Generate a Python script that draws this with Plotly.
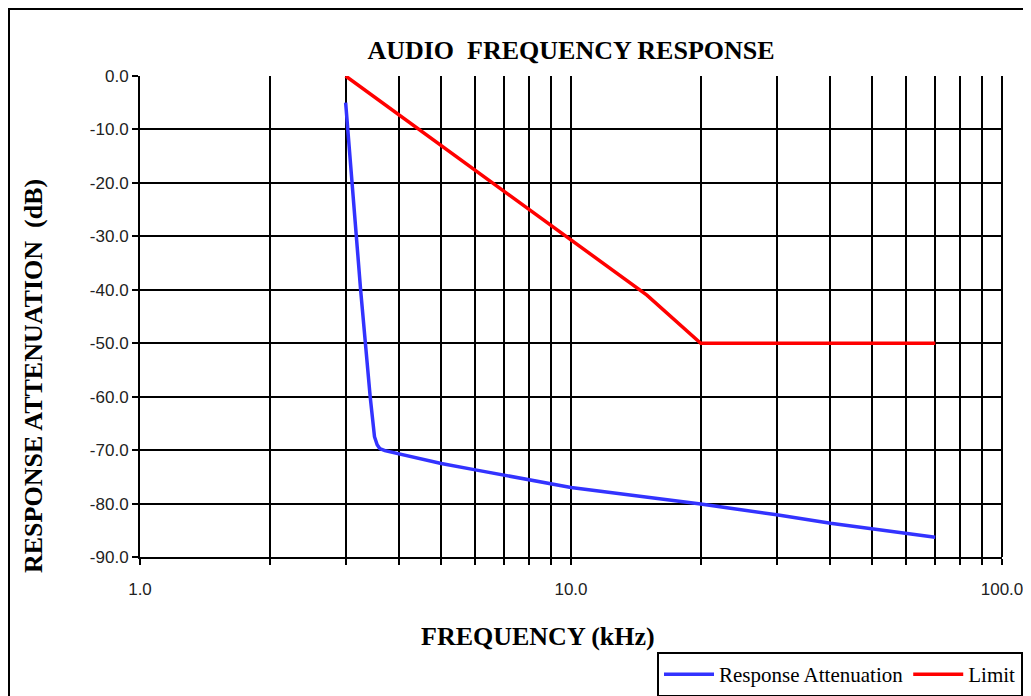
import plotly.graph_objects as go

# response attenuation (blue)
resp_freq = [3.0, 3.1, 3.25, 3.42, 3.5, 3.55, 3.6, 3.7, 3.85, 4.0, 5.0, 6.0, 7.0, 8.0, 9.0, 10.0,
             20.0, 30.0, 40.0, 50.0, 60.0, 70.0]
resp_db = [-5.0, -20.0, -40.0, -60.0, -67.5, -69.0, -69.7, -70.1, -70.4, -70.7, -72.5, -73.7, -74.7,
           -75.6, -76.4, -77.0, -80.1, -82.1, -83.7, -84.8, -85.7, -86.3]

# limit (red)
limit_freq = [3.0, 15.0, 20.0, 70.0]
limit_db = [0.0, -41.0, -50.0, -50.0]

x_major = [1, 10, 100]
x_major_text = ["1.0", "10.0", "100.0"]
x_minor = [2, 3, 4, 5, 6, 7, 8, 9, 20, 30, 40, 50, 60, 70, 80, 90]
y_ticks = [0, -10, -20, -30, -40, -50, -60, -70, -80, -90]
y_ticktext = [f"{v:.1f}" for v in y_ticks]

SERIF = "Liberation Serif, Times New Roman, serif"
SANS = "Liberation Sans, Arial, sans-serif"

# page offset (body margin) and plot box in page pixels
OFF = 8
PX0, PX1, PY0, PY1 = 140, 1002, 76, 557
W, H = 1031, 696


def px(x):
    return (x - PX0) / (PX1 - PX0)


def py(y):
    return (PY1 - y) / (PY1 - PY0)


fig = go.Figure()

fig.add_trace(go.Scatter(
    x=resp_freq, y=resp_db,
    name="Response Attenuation",
    mode="lines",
    line=dict(color="#3333ff", width=3.5),
))

fig.add_trace(go.Scatter(
    x=limit_freq, y=limit_db,
    name="Limit",
    mode="lines",
    line=dict(color="#ff0000", width=3.5),
))

fig.update_layout(
    width=W,
    height=H,
    paper_bgcolor="white",
    plot_bgcolor="white",
    margin=dict(l=PX0 - OFF, r=W + OFF - PX1, t=PY0 - OFF, b=H + OFF - PY1),
    title=dict(
        text="<b>AUDIO  FREQUENCY RESPONSE</b>",
        x=0.5, xref="paper", xanchor="center",
        y=1 - (50 - OFF) / H, yref="container", yanchor="middle",
        font=dict(family=SERIF, size=26, color="black"),
    ),
    showlegend=True,
    legend=dict(
        orientation="h",
        x=px(657), xanchor="left",
        y=1 - (652 - OFF) / H, yref="container", yanchor="top",
        font=dict(family=SERIF, size=21, color="black"),
        bordercolor="black", borderwidth=2,
        bgcolor="white",
        itemwidth=50,
    ),
    xaxis=dict(
        type="log",
        range=[0, 2],
        tickmode="array",
        tickvals=x_major,
        ticktext=x_major_text,
        ticks="outside", ticklen=6, tickwidth=2, tickcolor="black",
        ticklabelstandoff=10,
        showgrid=True, gridcolor="black", gridwidth=2,
        showline=True, linecolor="black", linewidth=2, mirror=False,
        tickfont=dict(family=SANS, size=17, color="#222222"),
        minor=dict(tickvals=x_minor, showgrid=True, gridcolor="black", gridwidth=2,
                   ticks="outside", ticklen=6, tickwidth=2, tickcolor="black"),
        zeroline=False,
    ),
    yaxis=dict(
        range=[-90, 0],
        tickmode="array",
        tickvals=y_ticks,
        ticktext=y_ticktext,
        ticks="outside", ticklen=6, tickwidth=2, tickcolor="black",
        showgrid=True, gridcolor="black", gridwidth=2,
        showline=True, linecolor="black", linewidth=2,
        tickfont=dict(family=SANS, size=17, color="#222222"),
        zeroline=False,
    ),
    annotations=[
        dict(text="<b>FREQUENCY (kHz)</b>", xref="paper", yref="paper",
             x=px(538), y=py(636), xanchor="center", yanchor="middle",
             showarrow=False, font=dict(family=SERIF, size=26, color="black")),
        dict(text="<b>RESPONSE ATTENUATION  (dB)</b>", xref="paper", yref="paper",
             x=px(33), y=py(376), xanchor="center", yanchor="middle",
             textangle=-90, showarrow=False, font=dict(family=SERIF, size=26, color="black")),
    ],
    shapes=[
        dict(type="rect", xref="paper", yref="paper",
             x0=px(9), x1=px(1045), y0=py(9), y1=py(715),
             line=dict(color="black", width=2), layer="below"),
        # right border of the plot area
        dict(type="line", xref="paper", yref="paper", x0=1, x1=1, y0=0, y1=1,
             line=dict(color="black", width=2)),
    ],
)

fig.write_html("out.html")
